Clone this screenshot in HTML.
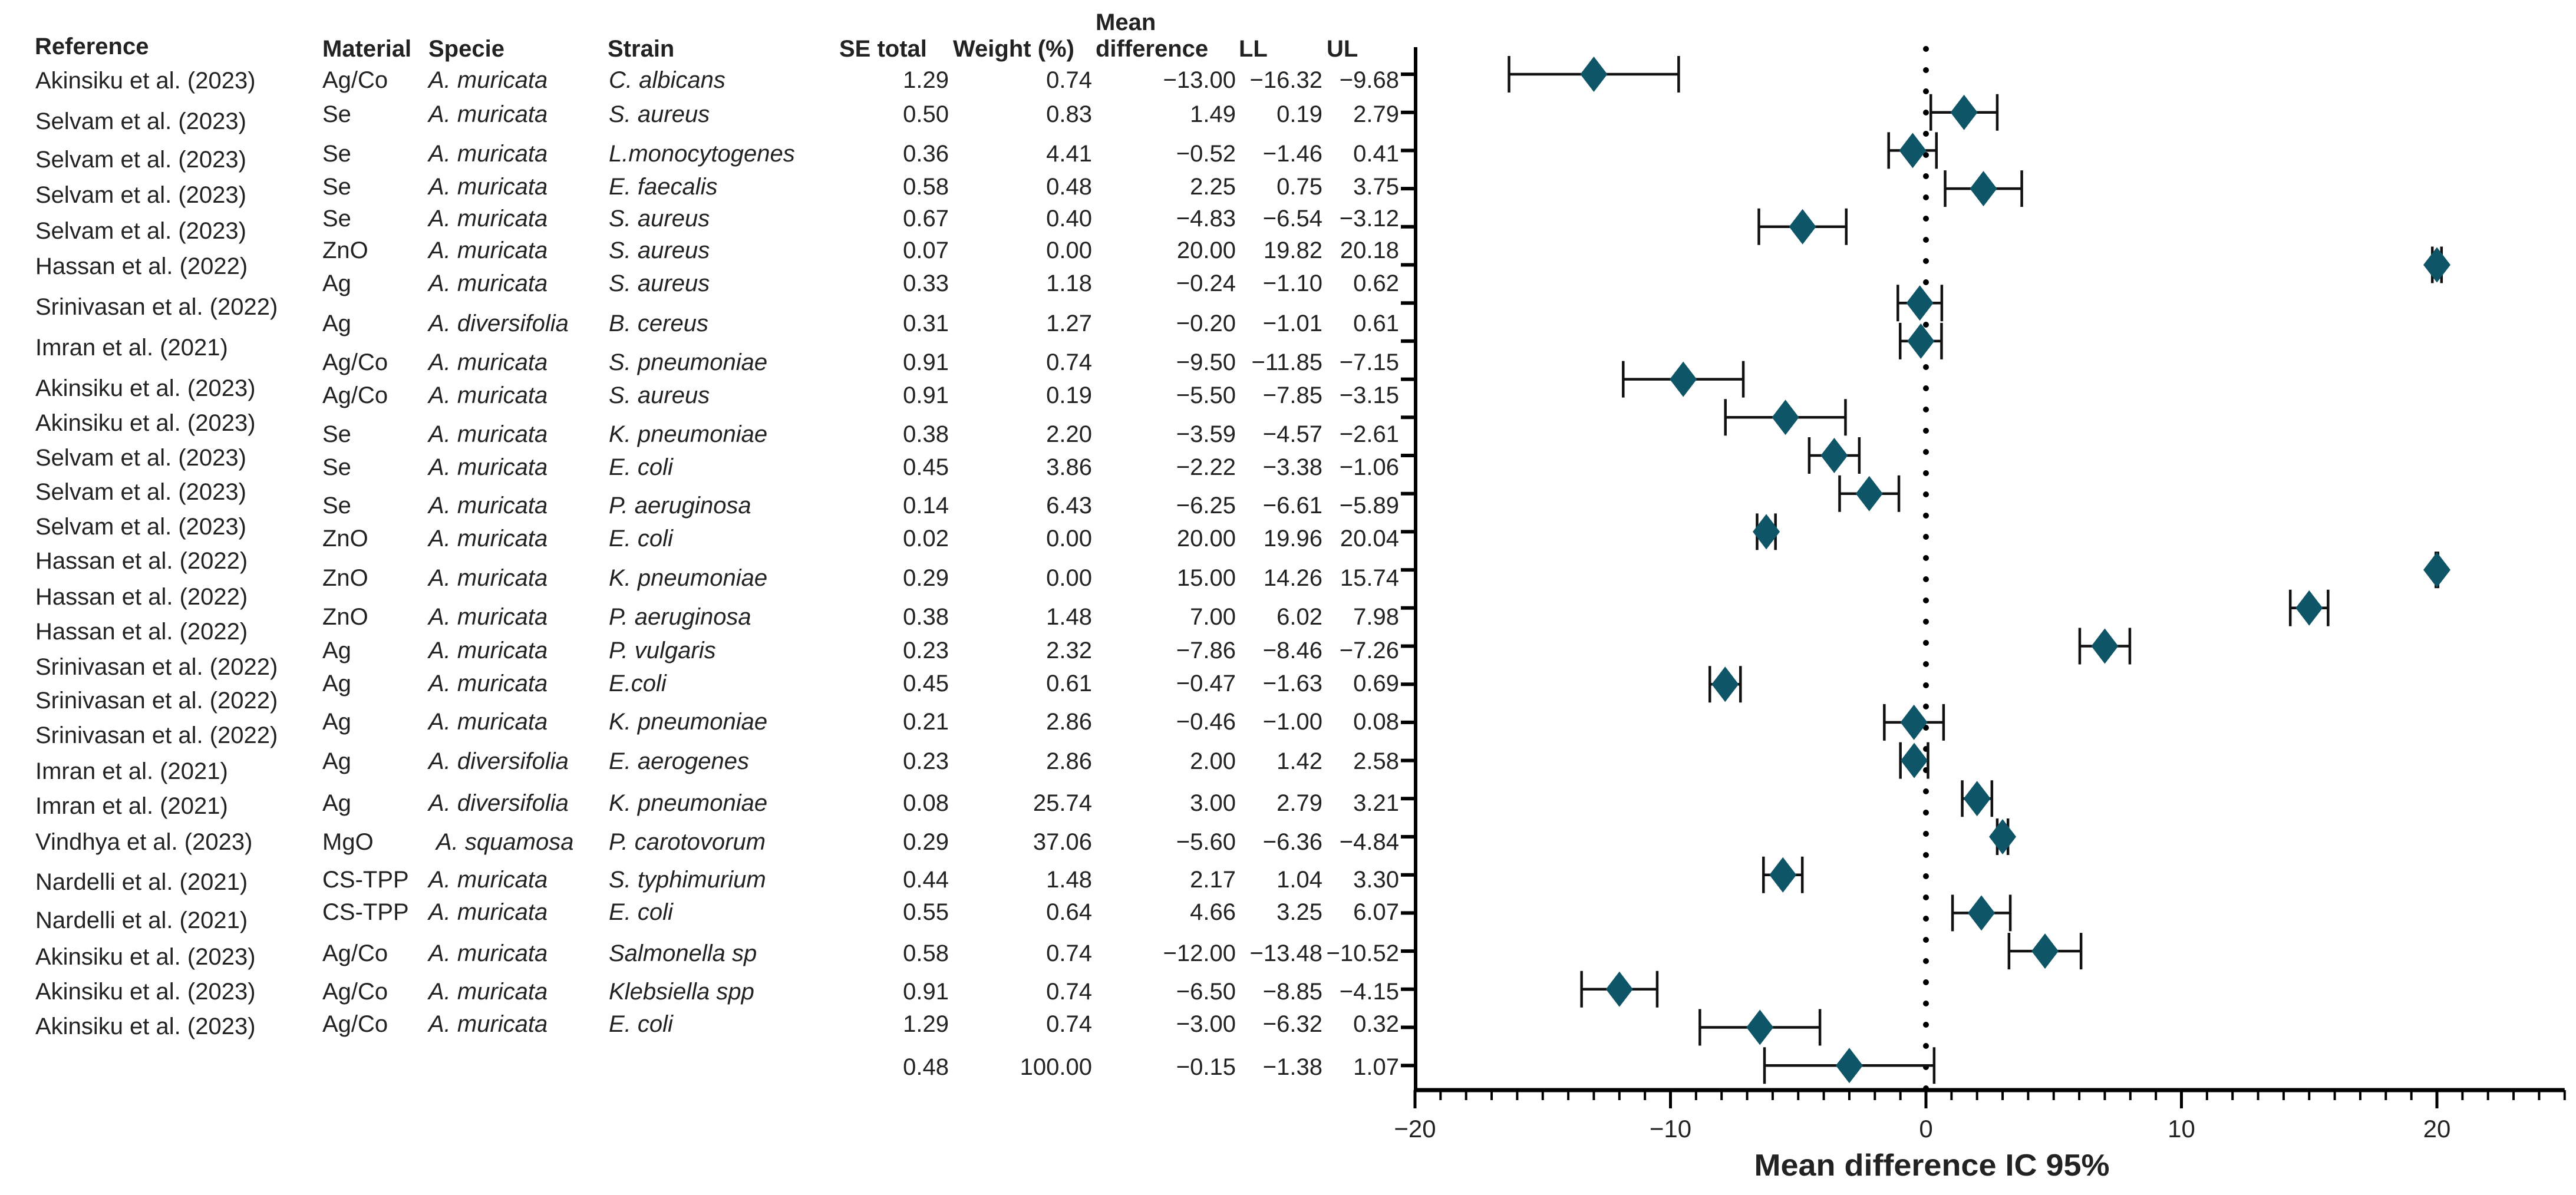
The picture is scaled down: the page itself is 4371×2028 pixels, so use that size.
<!DOCTYPE html>
<html><head><meta charset="utf-8"><style>
html,body{margin:0;padding:0;background:#fff;}
svg{display:block;}
text{font-family:"Liberation Sans",sans-serif;fill:#222;}
</style></head><body>
<svg id="chart" width="4371" height="2028" viewBox="0 0 4371 2028" xmlns="http://www.w3.org/2000/svg">
<g id="hdr" font-weight="bold" font-size="40">
<text x="59" y="92">Reference</text>
<text x="547" y="96">Material</text>
<text x="727" y="96">Specie</text>
<text x="1031" y="96">Strain</text>
<text x="1424" y="96">SE total</text>
<text x="1617" y="96">Weight (%)</text>
<text x="1859" y="51">Mean</text>
<text x="1859" y="96">difference</text>
<text x="2102" y="96">LL</text>
<text x="2251" y="96">UL</text>
</g>
<g id="table" font-size="40"></g>
<g id="plot"></g>
</svg>
<script>
const refs = ["Akinsiku et al. (2023)","Selvam et al. (2023)","Selvam et al. (2023)","Selvam et al. (2023)","Selvam et al. (2023)","Hassan et al. (2022)","Srinivasan et al. (2022)","Imran et al. (2021)","Akinsiku et al. (2023)","Akinsiku et al. (2023)","Selvam et al. (2023)","Selvam et al. (2023)","Selvam et al. (2023)","Hassan et al. (2022)","Hassan et al. (2022)","Hassan et al. (2022)","Srinivasan et al. (2022)","Srinivasan et al. (2022)","Srinivasan et al. (2022)","Imran et al. (2021)","Imran et al. (2021)","Vindhya et al. (2023)","Nardelli et al. (2021)","Nardelli et al. (2021)","Akinsiku et al. (2023)","Akinsiku et al. (2023)","Akinsiku et al. (2023)"];
const materials = ["Ag/Co","Se","Se","Se","Se","ZnO","Ag","Ag","Ag/Co","Ag/Co","Se","Se","Se","ZnO","ZnO","ZnO","Ag","Ag","Ag","Ag","Ag","MgO","CS-TPP","CS-TPP","Ag/Co","Ag/Co","Ag/Co"];
const species = ["A. muricata","A. muricata","A. muricata","A. muricata","A. muricata","A. muricata","A. muricata","A. diversifolia","A. muricata","A. muricata","A. muricata","A. muricata","A. muricata","A. muricata","A. muricata","A. muricata","A. muricata","A. muricata","A. muricata","A. diversifolia","A. diversifolia","A. squamosa","A. muricata","A. muricata","A. muricata","A. muricata","A. muricata"];
const strains = ["C. albicans","S. aureus","L.monocytogenes","E. faecalis","S. aureus","S. aureus","S. aureus","B. cereus","S. pneumoniae","S. aureus","K. pneumoniae","E. coli","P. aeruginosa","E. coli","K. pneumoniae","P. aeruginosa","P. vulgaris","E.coli","K. pneumoniae","E. aerogenes","K. pneumoniae","P. carotovorum","S. typhimurium","E. coli","Salmonella sp","Klebsiella spp","E. coli"];
const seTotal = [1.29,0.50,0.36,0.58,0.67,0.07,0.33,0.31,0.91,0.91,0.38,0.45,0.14,0.02,0.29,0.38,0.23,0.45,0.21,0.23,0.08,0.29,0.44,0.55,0.58,0.91,1.29];
const weights = [0.74,0.83,4.41,0.48,0.40,0.00,1.18,1.27,0.74,0.19,2.20,3.86,6.43,0.00,0.00,1.48,2.32,0.61,2.86,2.86,25.74,37.06,1.48,0.64,0.74,0.74,0.74];
const meanDiff = [-13.00,1.49,-0.52,2.25,-4.83,20.00,-0.24,-0.20,-9.50,-5.50,-3.59,-2.22,-6.25,20.00,15.00,7.00,-7.86,-0.47,-0.46,2.00,3.00,-5.60,2.17,4.66,-12.00,-6.50,-3.00];
const lowerLimit = [-16.32,0.19,-1.46,0.75,-6.54,19.82,-1.10,-1.01,-11.85,-7.85,-4.57,-3.38,-6.61,19.96,14.26,6.02,-8.46,-1.63,-1.00,1.42,2.79,-6.36,1.04,3.25,-13.48,-8.85,-6.32];
const upperLimit = [-9.68,2.79,0.41,3.75,-3.12,20.18,0.62,0.61,-7.15,-3.15,-2.61,-1.06,-5.89,20.04,15.74,7.98,-7.26,0.69,0.08,2.58,3.21,-4.84,3.30,6.07,-10.52,-4.15,0.32];
const summary = [0.48,100.00,-0.15,-1.38,1.07];
const xTicks = [-20,-10,0,10,20];

// layout (pixel positions, not data)
const refY=[136,205,270,330,391,451,520,589,658,717,776,834,893,951,1012,1071,1131,1188,1247,1308,1367,1428,1496,1561,1623,1682,1741];
const rowY=[135,193,260,316,370,424,480,548,614,670,736,792,857,913,980,1046,1103,1159,1224,1291,1362,1428,1492,1547,1617,1682,1737];
const sumY=1810;
const NS="http://www.w3.org/2000/svg";
function mk(tag,attrs,parent){const e=document.createElementNS(NS,tag);for(const k in attrs)e.setAttribute(k,attrs[k]);parent.appendChild(e);return e;}
const fmt=v=>(v<0?"\u2212":"")+Math.abs(v).toFixed(2);
const tbl=document.getElementById('table');
function txt(s,x,y,anchor,italic,name){
  const t=mk('text',{x:x,y:y+14,'text-anchor':anchor},tbl);
  if(italic)t.setAttribute('font-style','italic');
  
  
  t.textContent=s;return t;
}
refs.forEach((r,i)=>txt(r,60,refY[i],'start',false,'reference-'+(i+1)));
materials.forEach((m,i)=>{
  txt(m,547,rowY[i],'start',false,'material-'+(i+1));
  txt(species[i],species[i]==="A. squamosa"?740:727,rowY[i],'start',true,'specie-'+(i+1));
  txt(strains[i],1033,rowY[i],'start',true,'strain-'+(i+1));
  txt(seTotal[i].toFixed(2),1610,rowY[i],'end',false,'se-total-'+(i+1));
  txt(weights[i].toFixed(2),1853,rowY[i],'end',false,'weight-'+(i+1));
  txt(fmt(meanDiff[i]),2097,rowY[i],'end',false,'mean-difference-'+(i+1));
  txt(fmt(lowerLimit[i]),2244,rowY[i],'end',false,'lower-limit-'+(i+1));
  txt(fmt(upperLimit[i]),2374,rowY[i],'end',false,'upper-limit-'+(i+1));
});
txt(summary[0].toFixed(2),1610,sumY,'end',false,'summary-se-total');
txt(summary[1].toFixed(2),1853,sumY,'end',false,'summary-weight');
txt(fmt(summary[2]),2097,sumY,'end',false,'summary-mean-difference');
txt(fmt(summary[3]),2244,sumY,'end',false,'summary-lower-limit');
txt(fmt(summary[4]),2374,sumY,'end',false,'summary-upper-limit');

// plot
const plot=document.getElementById('plot');
const X0=3268, PX=43.35, AX=1850, AXL=2402;
const xs=v=>X0+v*PX;
const ys=i=>126+i*64.7;
// zero dotted line
const zl=mk('line',{x1:xs(0),y1:83,x2:xs(0),y2:AX,stroke:'#000','stroke-width':10,'stroke-linecap':'round','stroke-dasharray':'0 36'},plot);


// y axis
const ya=mk('line',{x1:AXL,y1:80,x2:AXL,y2:AX+3,stroke:'#000','stroke-width':6},plot);


meanDiff.forEach((v,i)=>{
  const t=mk('line',{x1:2377,y1:ys(i),x2:AXL,y2:ys(i),stroke:'#000','stroke-width':6},plot);
  
  
});
// x axis
const xa=mk('line',{x1:AXL-3,y1:AX,x2:xs(25),y2:AX,stroke:'#000','stroke-width':7},plot);


for(let v=-20;v<=25;v++){
  const major=v%10===0;
  const t=mk('line',{x1:xs(v),y1:AX,x2:xs(v),y2:major?1881:1867,stroke:'#000','stroke-width':major?5:4},plot);
  
  
}
xTicks.forEach(v=>{
  const t=mk('text',{x:xs(v),y:1930,'text-anchor':'middle','font-size':42},plot);
  
  
  t.textContent=(v<0?"\u2212":"")+Math.abs(v);
});
const title=mk('text',{x:3278,y:1995,'text-anchor':'middle','font-size':52,'font-weight':'bold',textLength:603,lengthAdjust:'spacingAndGlyphs'},plot);


title.textContent="Mean difference IC 95%";
// error bars and diamonds
meanDiff.forEach((v,i)=>{
  const y=ys(i), g=mk('g',{},plot);
  
  
  mk('line',{x1:xs(lowerLimit[i]),y1:y,x2:xs(upperLimit[i]),y2:y,stroke:'#111','stroke-width':4.5},g);
  mk('line',{x1:xs(lowerLimit[i]),y1:y-31,x2:xs(lowerLimit[i]),y2:y+31,stroke:'#111','stroke-width':4.5},g);
  mk('line',{x1:xs(upperLimit[i]),y1:y-31,x2:xs(upperLimit[i]),y2:y+31,stroke:'#111','stroke-width':4.5},g);
  const x=xs(v);
  const d=mk('polygon',{points:`${x},${y-30} ${x+23},${y} ${x},${y+30} ${x-23},${y}`,fill:'#0f5568'},g);
  
  
});
</script>
</body></html>
